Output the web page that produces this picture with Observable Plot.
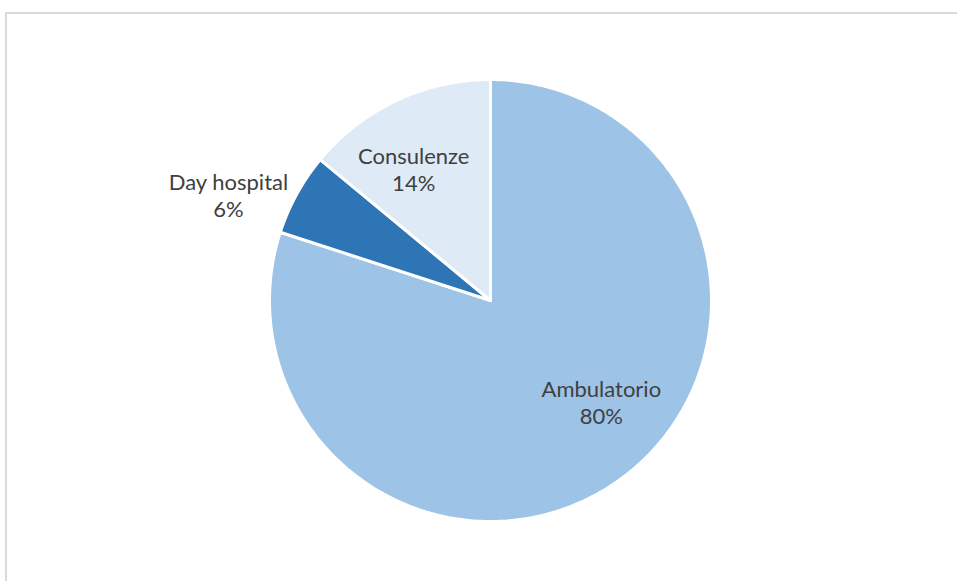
<!DOCTYPE html>
<html>
<head>
<meta charset="utf-8">
<script src="https://cdn.jsdelivr.net/npm/d3@7"></script>
<script src="https://cdn.jsdelivr.net/npm/@observablehq/plot@0.6"></script>
<style>
  html, body { margin: 0; padding: 0; background: #fff; }
  #wrap { position: relative; width: 957px; height: 581px; overflow: hidden; }
  #frame { position: absolute; left: 5px; top: 12px; width: 1000px; height: 700px;
           border-top: 2px solid #d9d9d9; border-left: 2px solid #d9d9d9; box-sizing: border-box; }
  #chart { position: absolute; left: 0; top: 0; }
</style>
</head>
<body>
<div id="wrap"><div id="frame"></div><div id="chart"></div></div>
<script>
// Data
const categories = ["Ambulatorio", "Day hospital", "Consulenze"];
const values = [80, 6, 14];
const colors = ["#9DC3E6", "#2E75B6", "#DEEBF7"];

// label layout (fraction of radius, fraction along slice angle)
const labelRadius = [0.68, 1.278, 0.69];
const labelAlong = [0.46, 0.18, 0.40];

const W = 957, H = 581;
const cx = 490, cy = 300, R = 221;

const total = d3.sum(values);
let acc = 0;
const slices = categories.map((c, i) => {
  const a0 = acc / total * 2 * Math.PI;
  acc += values[i];
  const a1 = acc / total * 2 * Math.PI;
  return {category: c, value: values[i], a0, a1, pct: Math.round(values[i] / total * 100) + "%"};
});

// outline points of each slice (center -> arc -> center), angles clockwise from 12 o'clock
const pts = [];
for (const s of slices) {
  pts.push({category: s.category, x: 0, y: 0});
  const n = Math.max(2, Math.ceil((s.a1 - s.a0) / (Math.PI / 180)));
  for (let k = 0; k <= n; k++) {
    const a = s.a0 + (s.a1 - s.a0) * k / n;
    pts.push({category: s.category, x: Math.sin(a), y: Math.cos(a)});
  }
  pts.push({category: s.category, x: 0, y: 0});
}

const labels = slices.map((s, i) => {
  const m = s.a0 + (s.a1 - s.a0) * labelAlong[i];
  return {text: s.category + "\n" + s.pct, x: labelRadius[i] * Math.sin(m), y: labelRadius[i] * Math.cos(m)};
});

const chart = Plot.plot({
  width: W, height: H,
  margin: 0,
  style: {background: "transparent", fontFamily: "Lato, 'Open Sans', sans-serif"},
  x: {domain: [-cx / R, (W - cx) / R], range: [0, W], axis: null},
  y: {domain: [-(H - cy) / R, cy / R], range: [H, 0], axis: null},
  color: {domain: categories, range: colors},
  marks: [
    Plot.line(pts, {x: "x", y: "y", z: "category", fill: "category", stroke: "white", strokeWidth: 3, strokeLinejoin: "miter", curve: "linear"}),
    Plot.text(labels, {x: "x", y: "y", text: "text", fill: "#404040", fontSize: 22, lineHeight: 1.23})
  ]
});
document.getElementById("chart").appendChild(chart);
</script>
</body>
</html>
